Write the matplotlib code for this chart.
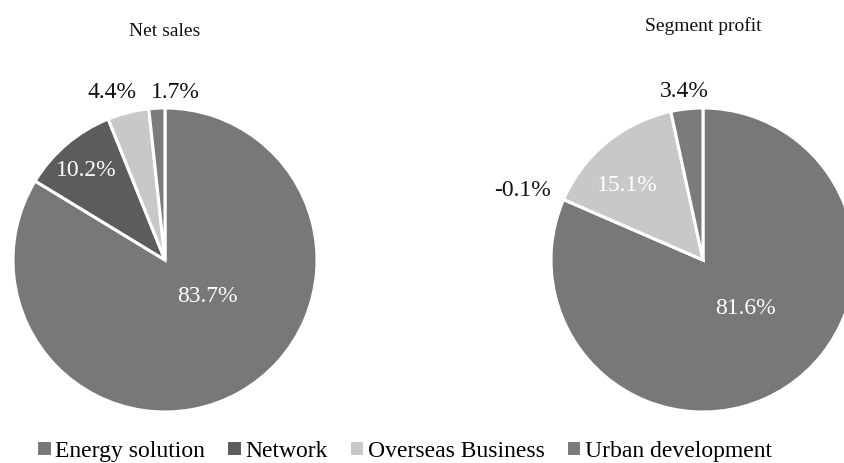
import matplotlib.pyplot as plt

plt.rcParams['font.family'] = ['Liberation Serif', 'DejaVu Serif']

segments = ['Energy solution', 'Network', 'Overseas Business', 'Urban development']
net_sales = [83.7, 10.2, 4.4, 1.7]
segment_profit = [81.6, -0.1, 15.1, 3.4]
titles = ['Net sales', 'Segment profit']

COLORS = ['#787878', '#5c5c5c', '#c8c8c8', '#7b7b7b']
WEDGE_STYLE = {'edgecolor': 'white', 'linewidth': 2.2}

# label positions in pie-radius units, and colour (inside labels are white)
LABEL_LAYOUT = [
    [((0.28, -0.24), 'white'), ((-0.52, 0.59), 'white'),
     ((-0.35, 1.10), '#111111'), ((0.07, 1.10), '#111111')],
    [((0.28, -0.32), 'white'), ((-1.19, 0.46), '#111111'),
     ((-0.50, 0.49), 'white'), ((-0.12, 1.11), '#111111')],
]

W, H = 844, 463
R = 152
CENTERS = [(165, 260), (703, 260)]
TITLE_Y = [31, 26]


def draw_pie(fig, center, values, layout, title, title_y):
    cx, cy = center
    ax = fig.add_axes([(cx - R) / W, (H - cy - R) / H, 2 * R / W, 2 * R / H])
    sizes = [max(v, 0) for v in values]
    wedges, _ = ax.pie(sizes, colors=COLORS, startangle=90, counterclock=False,
                       wedgeprops=WEDGE_STYLE, radius=1)
    ax.set_xlim(-1, 1)
    ax.set_ylim(-1, 1)
    ax.set_aspect('equal')
    ax.axis('off')
    for v, ((x, y), color) in zip(values, layout):
        ax.text(x, y, f'{v:.1f}%', ha='center', va='center', fontsize=17, color=color)
    fig.text(cx / W, 1 - title_y / H, title, ha='center', va='center', fontsize=14, color='#111111')
    return wedges


fig = plt.figure(figsize=(W / 100, H / 100), dpi=100)

handles = None
for center, values, layout, title, ty in zip(CENTERS, [net_sales, segment_profit], LABEL_LAYOUT, titles, TITLE_Y):
    wedges = draw_pie(fig, center, values, layout, title, ty)
    if handles is None:
        handles = wedges

fig.legend(handles, segments, loc='center', bbox_to_anchor=(404 / W, 12 / H), ncol=4,
           frameon=False, fontsize=17, handlelength=0.65, handleheight=0.65,
           handletextpad=0.15, columnspacing=0.9, borderaxespad=0, borderpad=0)

plt.savefig('out.png', dpi=100)
